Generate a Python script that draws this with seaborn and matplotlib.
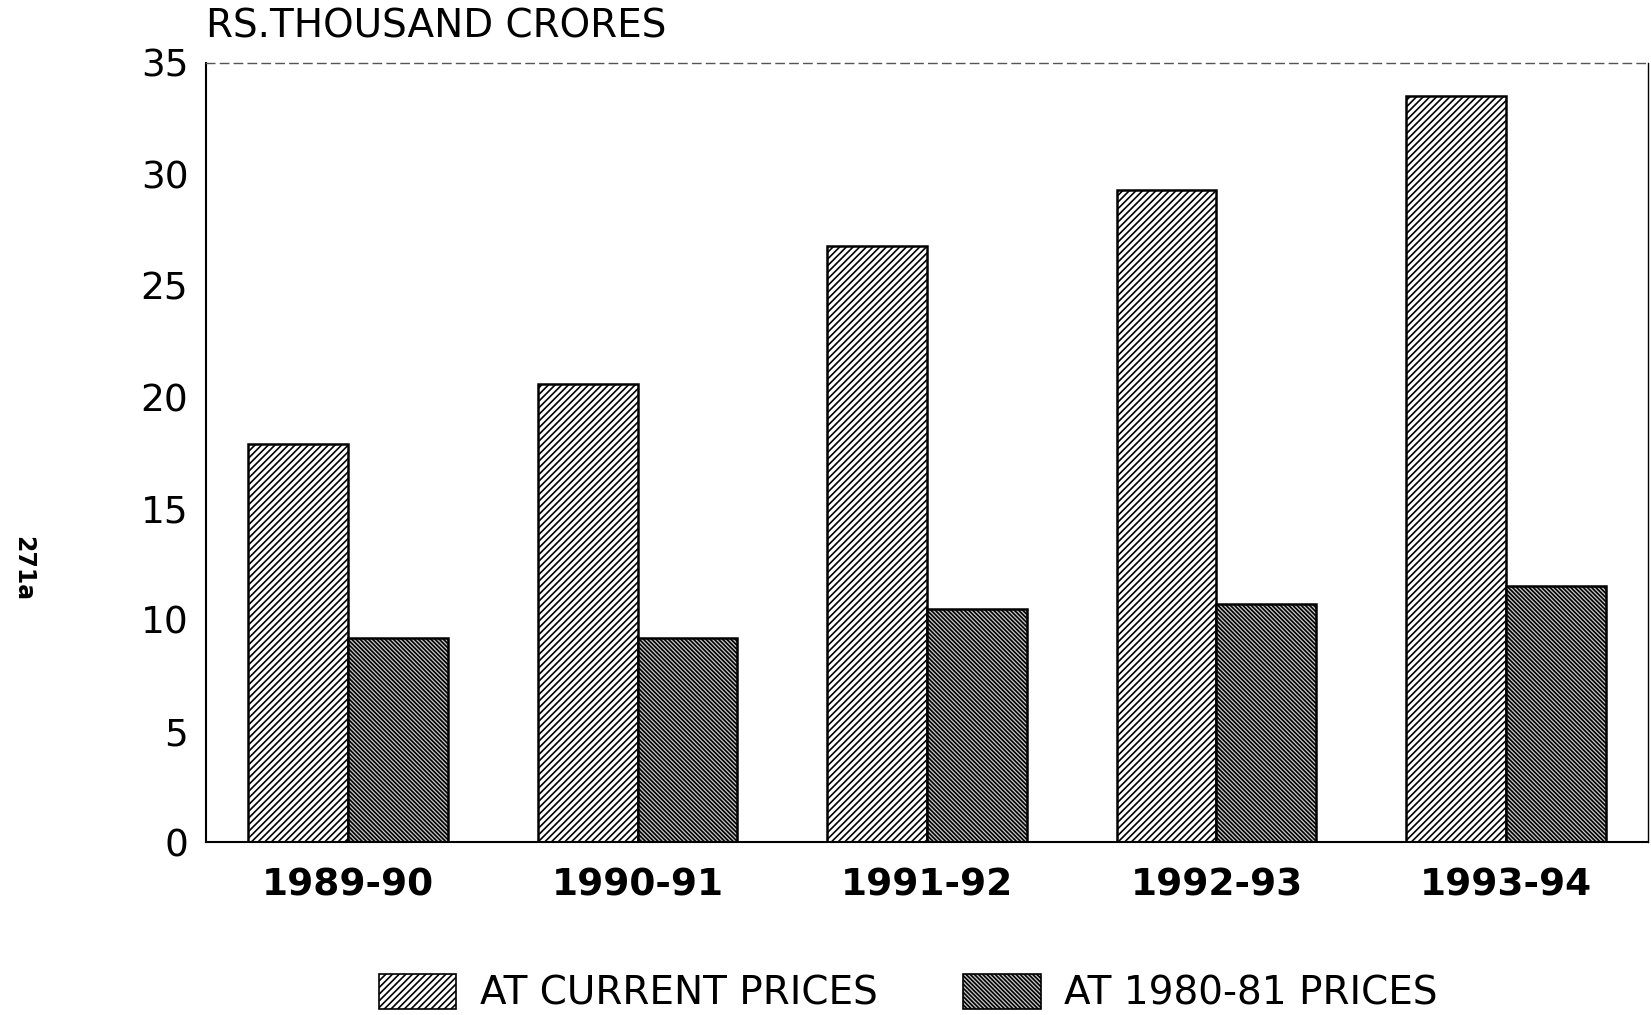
import matplotlib.pyplot as plt
import seaborn as sns
import pandas as pd

plt.switch_backend('Agg')

years = ['1989-90', '1990-91', '1991-92', '1992-93', '1993-94']
current_prices = [17.9, 20.6, 26.8, 29.3, 33.5]
constant_prices = [9.2, 9.2, 10.5, 10.7, 11.5]
series_names = ['AT CURRENT PRICES', 'AT 1980-81 PRICES']
y_ticks = [0, 5, 10, 15, 20, 25, 30, 35]

df = pd.DataFrame({
    'year': years * 2,
    'value': current_prices + constant_prices,
    'series': [series_names[0]] * len(years) + [series_names[1]] * len(years),
})

sns.set_theme(style="white", rc={'text.color': 'black', 'xtick.color': 'black',
                                 'ytick.color': 'black', 'axes.labelcolor': 'black'})
plt.rcParams['font.family'] = ['DejaVu Sans']
plt.rcParams['hatch.linewidth'] = 1.2
plt.rcParams['hatch.color'] = 'black'

fig = plt.figure(figsize=(16.51, 10.15), dpi=100)
ax = fig.add_axes([0.125, 0.170, 0.873, 0.768])

sns.barplot(data=df, x='year', y='value', hue='series', order=years,
            hue_order=series_names, palette=['white', '#c8c8c8'],
            width=0.69, gap=0, edgecolor='black', linewidth=1.8,
            legend=False, ax=ax)

hatches = ['/////', '\\\\\\\\\\\\\\\\']
for container, h in zip(ax.containers, hatches):
    for bar in container:
        bar.set_hatch(h)

ax.set_ylim(0, 35)
ax.set_xlim(-0.49, 4.49)
ax.set_yticks(y_ticks)
ax.set_yticklabels([str(t) for t in y_ticks], fontsize=27)
ax.set_xticks(range(len(years)))
ax.set_xticklabels(years, fontsize=27, fontweight='semibold')
ax.tick_params(axis='y', length=5, width=1, color='black', pad=8)
ax.tick_params(axis='x', length=0, pad=18)
ax.set_xlabel('')
ax.set_ylabel('')

for side in ['left', 'bottom']:
    ax.spines[side].set_color('black')
    ax.spines[side].set_linewidth(1.5)
ax.spines['top'].set_color('#555555')
ax.spines['top'].set_linewidth(1.0)
ax.spines['top'].set_linestyle((0, (6, 4)))
ax.spines['right'].set_color('black')
ax.spines['right'].set_linewidth(1.0)

fig.text(0.125, 0.963, 'RS.THOUSAND CRORES', fontsize=28, ha='left', va='baseline')
fig.text(0.014, 0.44, '271a', fontsize=17, fontweight='bold', rotation=-90,
         ha='center', va='center')

handles = [plt.Rectangle((0, 0), 1, 1, facecolor=fc, edgecolor='black',
                         hatch=h, linewidth=1.2)
           for fc, h in zip(['white', '#c8c8c8'], hatches)]
fig.legend(handles, series_names, loc='lower center', ncol=2,
           bbox_to_anchor=(0.55, -0.032), frameon=False, fontsize=28,
           handlelength=2.0, handleheight=1.0, columnspacing=2.2,
           handletextpad=0.6)

plt.savefig('out.png', dpi=100)
plt.close()
